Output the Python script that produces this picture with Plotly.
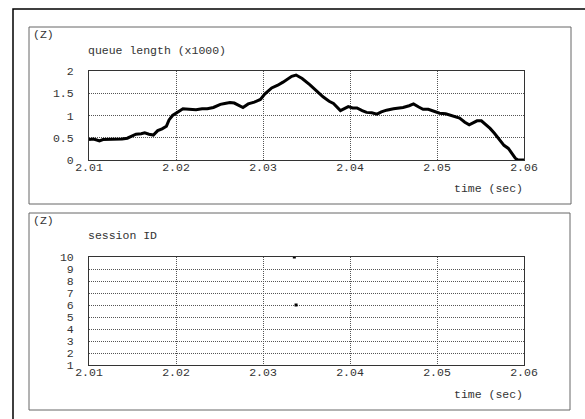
import plotly.graph_objects as go

W, H = 585, 419

# ---- data ----
t_offset_ms = [0.0, 0.5, 0.9, 1.2, 1.6, 2.2, 3.0, 3.8, 4.4, 4.9, 5.4, 6.0, 6.4, 6.9, 7.4,
               7.9, 8.4, 8.9, 9.2, 9.6, 10.2, 10.8, 11.5, 12.3, 13.0, 13.6, 14.3, 15.1,
               15.6, 16.2, 16.7, 17.1, 17.7, 18.3, 19.0, 19.7, 20.2, 21.0, 21.7, 22.3,
               22.9, 23.3, 23.8, 24.5, 25.4, 26.2, 26.9, 27.6, 28.1, 28.9, 29.4, 29.8,
               30.3, 30.8, 31.4, 31.9, 32.5, 33.1, 33.6, 34.2, 35.0, 35.6, 36.1, 36.8,
               37.3, 37.9, 38.4, 39.0, 39.6, 40.3, 41.0, 41.5, 42.1, 42.6, 43.2, 43.7,
               44.2, 44.6, 45.1, 45.6, 46.1, 46.6, 47.2, 47.7, 48.2, 48.6, 49.0, 49.3, 50.0]
queue_len = [0.46, 0.47, 0.45, 0.43, 0.46, 0.46, 0.46, 0.47, 0.49, 0.54, 0.58, 0.59, 0.61,
             0.58, 0.56, 0.66, 0.70, 0.76, 0.90, 1.00, 1.08, 1.15, 1.14, 1.13, 1.15, 1.15,
             1.18, 1.25, 1.27, 1.29, 1.28, 1.24, 1.18, 1.26, 1.30, 1.36, 1.48, 1.62, 1.68,
             1.75, 1.84, 1.88, 1.91, 1.83, 1.69, 1.54, 1.42, 1.32, 1.27, 1.11, 1.16, 1.20,
             1.17, 1.17, 1.11, 1.07, 1.06, 1.03, 1.08, 1.12, 1.15, 1.16, 1.18, 1.22, 1.26,
             1.19, 1.14, 1.14, 1.10, 1.05, 1.04, 1.01, 0.97, 0.94, 0.85, 0.79, 0.84, 0.88,
             0.88, 0.80, 0.71, 0.60, 0.45, 0.33, 0.26, 0.15, 0.04, 0.0, 0.0]
time_s = [2.01 + v / 1000.0 for v in t_offset_ms]

session_time = [2.0336, 2.0338]
session_id = [10, 6]

x_ticks = [2.01, 2.02, 2.03, 2.04, 2.05, 2.06]
x_ticklabels = ["2.01", "2.02", "2.03", "2.04", "2.05", "2.06"]
y1_ticks = [0, 0.5, 1, 1.5, 2]
y1_ticklabels = ["0", "0.5", "1", "1.5", "2"]
y2_ticks = list(range(1, 11))
y2_ticklabels = [str(v) for v in y2_ticks]

FONT = "Liberation Mono"
FS = 11.5
TXT = "#333333"


def px(x):
    return x / W


def py(y):
    return 1 - y / H


fig = go.Figure()
fig.add_trace(go.Scatter(x=time_s, y=queue_len, mode="lines",
                         line=dict(color="black", width=3),
                         xaxis="x", yaxis="y", showlegend=False))
fig.add_trace(go.Scatter(x=session_time, y=session_id, mode="markers",
                         marker=dict(color="black", size=3, symbol="square"),
                         xaxis="x2", yaxis="y2", showlegend=False))

axis_common = dict(
    automargin=False,
    showline=True, linecolor="#333333", linewidth=1, mirror=True,
    showgrid=True, gridcolor="#555555", gridwidth=1, griddash="1px,1px",
    zeroline=False, ticks="",
    tickfont=dict(family=FONT, size=FS, color=TXT),
)
yaxis_extra = dict(ticks="outside", ticklen=12, tickcolor="rgba(0,0,0,0)")
xaxis_extra = dict(ticklabelstandoff=-4)

xdom = [px(89), px(524)]
fig.update_layout(
    width=W, height=H,
    margin=dict(l=0, r=0, t=0, b=0),
    paper_bgcolor="white", plot_bgcolor="white",
    xaxis=dict(domain=xdom, range=[2.01, 2.06], tickvals=x_ticks,
               ticktext=x_ticklabels, anchor="y", **axis_common, **xaxis_extra),
    yaxis=dict(domain=[py(160), py(71)], range=[0, 2], tickvals=y1_ticks,
               ticktext=y1_ticklabels, anchor="x",
               **{**axis_common, **yaxis_extra}),
    xaxis2=dict(domain=xdom, range=[2.01, 2.06], tickvals=x_ticks,
                ticktext=x_ticklabels, anchor="y2", **axis_common, **xaxis_extra),
    yaxis2=dict(domain=[py(365), py(257)], range=[1, 10], tickvals=y2_ticks,
                ticktext=y2_ticklabels, anchor="x2",
                **{**axis_common, **yaxis_extra}),
)

shapes = [
    dict(type="rect", xref="paper", yref="paper", x0=px(13), y0=py(9), x1=px(600), y1=py(440),
         line=dict(color="black", width=1.5)),
    dict(type="rect", xref="paper", yref="paper", x0=px(29), y0=py(27), x1=px(571), y1=py(204),
         line=dict(color="#666666", width=1)),
    dict(type="rect", xref="paper", yref="paper", x0=px(29), y0=py(213), x1=px(570), y1=py(410),
         line=dict(color="#666666", width=1)),
]
fig.update_layout(shapes=shapes)

ann = []
def add_text(text, x, y, xanchor="left"):
    ann.append(dict(text=text, xref="paper", yref="paper", x=px(x), y=py(y),
                    xanchor=xanchor, yanchor="middle", showarrow=False,
                    font=dict(family=FONT, size=FS, color=TXT)))

add_text("(Z)", 31, 34)
add_text("queue length (x1000)", 86, 50)
add_text("time (sec)", 525, 188, "right")
add_text("(Z)", 31, 220)
add_text("session ID", 86, 235)
add_text("time (sec)", 525, 394, "right")
fig.update_layout(annotations=ann)

fig.write_html("out.html")
